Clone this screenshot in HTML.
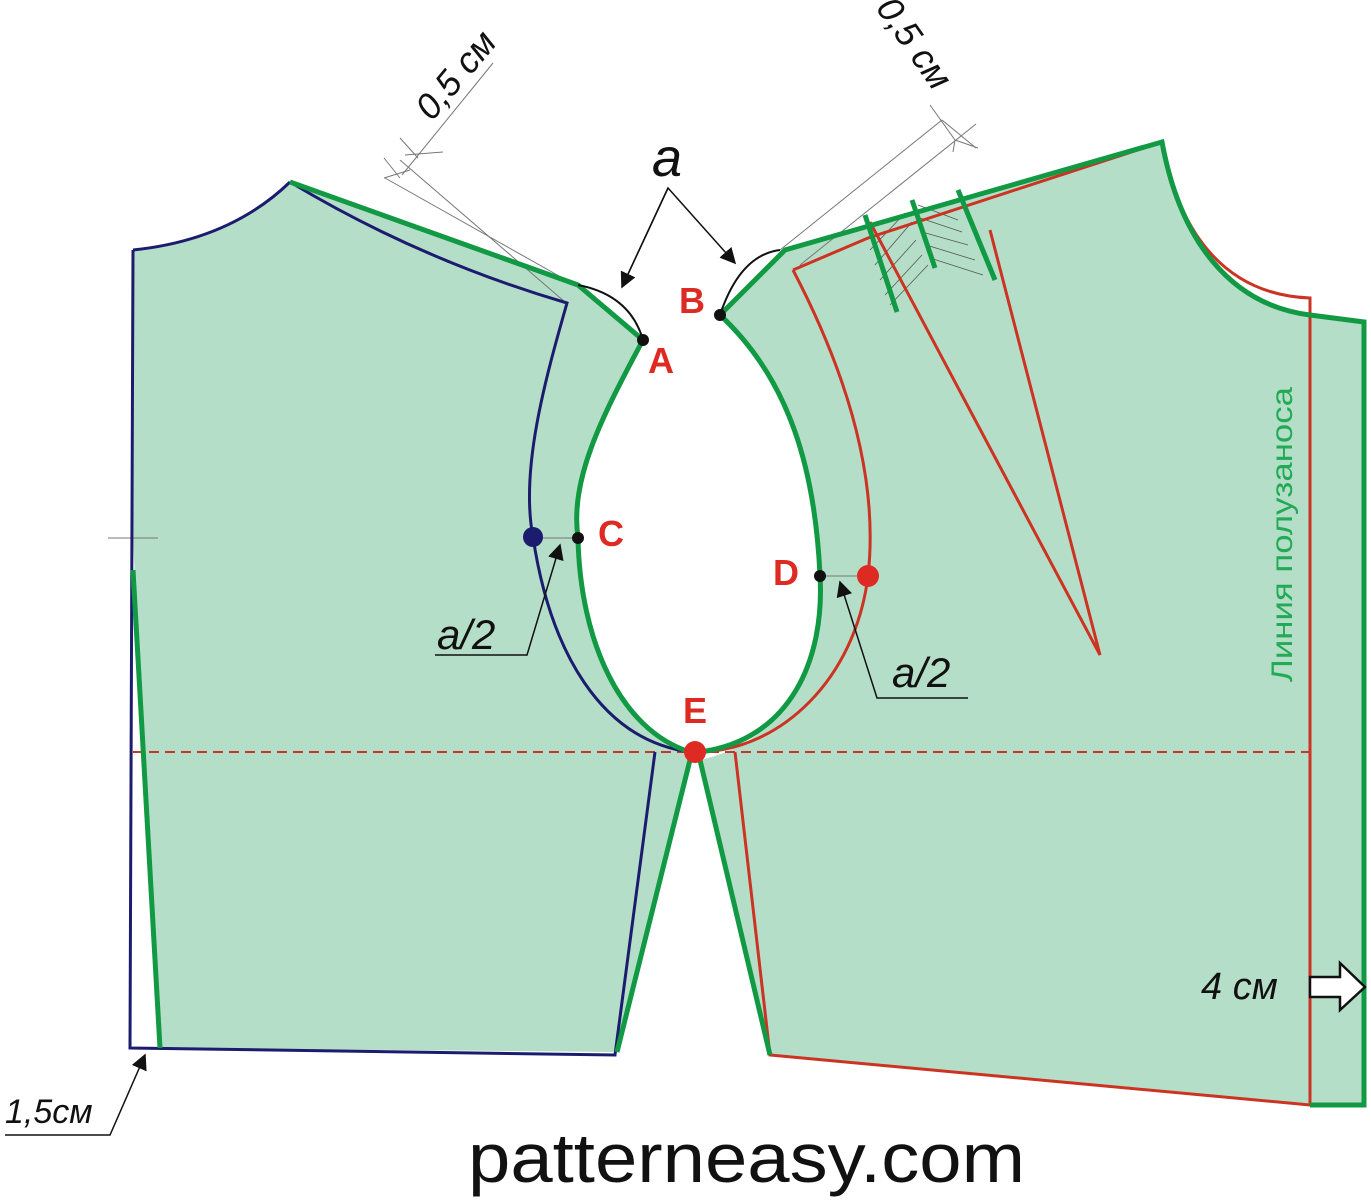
<!DOCTYPE html>
<html><head><meta charset="utf-8"><style>html,body{margin:0;padding:0;background:#fff}svg{display:block}</style></head>
<body>
<svg width="1371" height="1200" viewBox="0 0 1371 1200" xmlns="http://www.w3.org/2000/svg" font-family="Liberation Sans, sans-serif">
<defs>
<marker id="ar2" viewBox="0 0 10 10" refX="9" refY="5" markerWidth="16" markerHeight="16" orient="auto" markerUnits="userSpaceOnUse"><path d="M0,0 L10,5 L0,10 z" fill="#111"/></marker>
</defs>
<path d="M133,250 Q230,240 290,182 L578,285 L643,340 C600,420 570,480 578,538 C580,640 620,730 690,752 L617,1052 L160,1048 L133,540 Z" fill="#b5dec8"/>
<path d="M720,315 L785,250 L1162,142 C1180,240 1230,305 1310,315 L1364,322 L1364,1105 L1310,1105 L770,1055 L700,760 C790,740 825,660 820,575 C815,470 790,380 720,315 Z" fill="#b5dec8"/>
<g stroke="#777" stroke-width="1" fill="none">
<line x1="385" y1="178" x2="575" y2="285"/>
<line x1="400" y1="160" x2="565" y2="302"/>
<line x1="402" y1="175" x2="493" y2="63"/>
<line x1="384" y1="158" x2="400" y2="178"/><line x1="384" y1="178" x2="410" y2="170"/>
<line x1="400" y1="138" x2="418" y2="158"/><line x1="405" y1="155" x2="443" y2="152"/>
<line x1="780" y1="250" x2="942" y2="120"/>
<line x1="800" y1="265" x2="976" y2="124"/>
<line x1="942" y1="120" x2="976" y2="148"/>
<line x1="955" y1="140" x2="978" y2="148"/><line x1="955" y1="140" x2="953" y2="152"/>
<line x1="930" y1="105" x2="955" y2="140"/>
<line x1="108" y1="538" x2="158" y2="538"/>
<line x1="533" y1="538" x2="578" y2="538"/>
<line x1="820" y1="576" x2="868" y2="576"/>
</g>
<g stroke="#555" stroke-width="0.8">
<line x1="870" y1="250" x2="905" y2="213"/><line x1="875" y1="265" x2="912" y2="222"/><line x1="880" y1="280" x2="916" y2="240"/><line x1="885" y1="295" x2="922" y2="255"/><line x1="890" y1="305" x2="928" y2="265"/>
<line x1="918" y1="205" x2="958" y2="220"/><line x1="920" y1="218" x2="962" y2="232"/><line x1="922" y1="232" x2="968" y2="245"/><line x1="926" y1="245" x2="975" y2="260"/><line x1="930" y1="258" x2="983" y2="275"/>
</g>
<line x1="133" y1="752" x2="1310" y2="752" stroke="#c0392b" stroke-width="2" stroke-dasharray="10,6"/>
<g stroke="#1c1c6e" stroke-width="3" fill="none">
<path d="M133,250 Q230,240 290,182"/>
<path d="M290,182 Q420,260 567,303 C545,380 520,470 533,537 C550,650 600,740 690,752"/>
<path d="M133,250 L130,1048 L615,1055 L655,752"/>
</g>
<g stroke="#cc3322" stroke-width="3" fill="none">
<path d="M793,270 C840,360 880,470 868,576 C855,680 780,750 700,752"/>
<path d="M793,270 L868,238 L1162,142 C1180,240 1230,295 1310,298 L1310,1105 L770,1055 L735,752"/>
<path d="M870,222 L1100,655 L990,230"/>
</g>
<g stroke="#119944" stroke-width="5" fill="none">
<path d="M290,182 L578,285 L643,340 C600,420 570,480 578,538 C580,640 620,730 690,752"/>
<path d="M720,315 L785,250 L1162,142 C1180,240 1230,305 1310,315 L1364,322 L1364,1105 L1310,1105"/>
<path d="M720,315 C790,380 815,470 820,575 C825,660 790,740 700,752"/>
<path d="M690,760 L617,1052 M700,760 L770,1055"/>
<path d="M133,570 L160,1048"/>
<path d="M865,215 L897,312 M912,200 L935,268 M958,190 L995,280"/>
</g>
<path d="M578,285 Q630,295 643,340" stroke="#111" stroke-width="2" fill="none"/>
<path d="M720,315 Q740,255 780,250" stroke="#111" stroke-width="2" fill="none"/>
<g stroke="#111" stroke-width="1.5" fill="none">
<polyline points="622,287 668,188 735,263" marker-end="url(#ar2)"/>
<polyline points="668,188 622,287" marker-end="url(#ar2)"/>
<polyline points="435,655 527,655 560,545" marker-end="url(#ar2)"/>
<polyline points="968,698 877,698 840,582" marker-end="url(#ar2)"/>
<polyline points="5,1135 110,1135 145,1055" marker-end="url(#ar2)"/>
</g>
<circle cx="643" cy="340" r="6" fill="#111"/>
<circle cx="720" cy="315" r="6" fill="#111"/>
<circle cx="578" cy="538" r="6" fill="#111"/>
<circle cx="820" cy="576" r="6" fill="#111"/>
<circle cx="533" cy="537" r="10" fill="#1c1c6e"/>
<circle cx="868" cy="576" r="11" fill="#dd2a22"/>
<circle cx="695" cy="752" r="11" fill="#dd2a22"/>
<g fill="#dd2a22" font-weight="bold" font-size="36">
<text x="648" y="373">A</text>
<text x="679" y="313">B</text>
<text x="598" y="546">C</text>
<text x="773" y="585">D</text>
<text x="683" y="723">E</text>
</g>
<g fill="#111" font-style="italic">
<text x="652" y="176" font-size="54">a</text>
<text x="437" y="649" font-size="42">a/2</text>
<text x="892" y="687" font-size="42">a/2</text>
<text x="5" y="1123" font-size="34">1,5см</text>
<text x="1201" y="999" font-size="38">4 см</text>
<text x="0" y="0" font-size="36" transform="translate(432,122) rotate(-50)">0,5 см</text>
<text x="0" y="0" font-size="36" transform="translate(875,8) rotate(55)">0,5 см</text>
</g>
<text x="0" y="0" font-size="30" fill="#22aa55" textLength="295" lengthAdjust="spacingAndGlyphs" transform="translate(1292,682) rotate(-90)">Линия полузаноса</text>
<path d="M1310,977 L1340,977 L1340,963 L1365,987 L1340,1010 L1340,997 L1310,997 Z" fill="#fff" stroke="#111" stroke-width="2.5"/>
<text x="468" y="1182" font-size="70" fill="#111" textLength="557" lengthAdjust="spacingAndGlyphs">patterneasy.com</text>
</svg>
</body></html>
